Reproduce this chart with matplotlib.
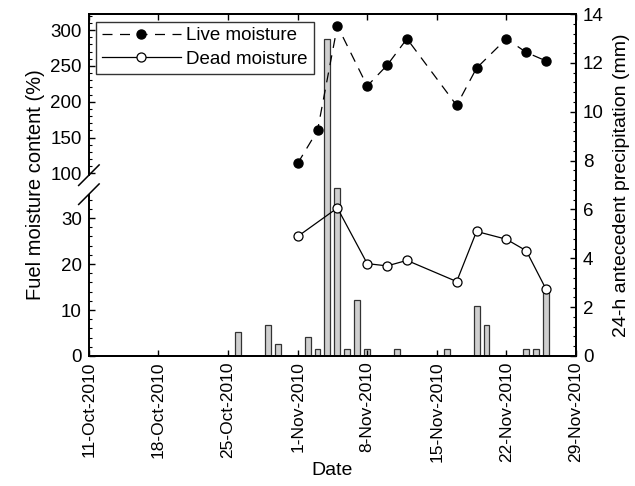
import numpy as np
import pandas as pd
import matplotlib
matplotlib.use("Agg")
import matplotlib.pyplot as plt

plt.rcParams["font.family"] = ["Liberation Sans", "DejaVu Sans"]

# data
live_dates = pd.to_datetime(["2010-11-01", "2010-11-03", "2010-11-05", "2010-11-08", "2010-11-10",
                             "2010-11-12", "2010-11-17", "2010-11-19", "2010-11-22", "2010-11-24",
                             "2010-11-26"])
live_moisture = [114, 160, 306, 222, 251, 288, 195, 247, 288, 269, 257]

dead_dates = pd.to_datetime(["2010-11-01", "2010-11-05", "2010-11-08", "2010-11-10", "2010-11-12",
                             "2010-11-17", "2010-11-19", "2010-11-22", "2010-11-24", "2010-11-26"])
dead_moisture = [26.0, 32.2, 20.1, 19.6, 20.8, 16.2, 27.1, 25.4, 22.9, 14.5]

rain_dates = pd.to_datetime(["2010-10-26", "2010-10-29", "2010-10-30", "2010-11-02", "2010-11-03",
                             "2010-11-04", "2010-11-05", "2010-11-06", "2010-11-07", "2010-11-08",
                             "2010-11-11", "2010-11-16", "2010-11-19", "2010-11-20", "2010-11-24",
                             "2010-11-25", "2010-11-26"])
rain_mm = [1.0, 1.27, 0.51, 0.78, 0.27, 13.0, 6.86, 0.27, 2.31, 0.27,
           0.27, 0.27, 2.04, 1.27, 0.27, 0.27, 2.7]

week_ticks = pd.to_datetime(["2010-10-11", "2010-10-18", "2010-10-25", "2010-11-01",
                             "2010-11-08", "2010-11-15", "2010-11-22", "2010-11-29"])
week_labels = ["11-Oct-2010", "18-Oct-2010", "25-Oct-2010", "1-Nov-2010",
               "8-Nov-2010", "15-Nov-2010", "22-Nov-2010", "29-Nov-2010"]

left_major = [0, 10, 20, 30, 100, 150, 200, 250, 300]

# broken left scale: lower part 0-35, squeezed gap, upper part 98-322
brk_vals = [0, 35.2, 97.6, 322.4]
brk_pos = [0, 161.7, 180.7, 341.7]


def fwd(v):
    return np.interp(v, brk_vals, brk_pos)


def inv(p):
    return np.interp(p, brk_pos, brk_vals)


fig = plt.figure(figsize=(6.35, 4.86), dpi=100)
ax = fig.add_axes([0.140, 0.2675, 0.767, 0.7035])
ax2 = ax.twinx()

# precipitation bars on the right axis
ax2.bar(rain_dates, rain_mm, width=0.6, color="#cfcfcf", edgecolor="#333333", linewidth=0.9)
ax2.set_ylim(0, 14)
ax2.set_yticks(range(0, 15, 2))
ax2.set_yticks(np.arange(0, 14.01, 0.4), minor=True)
ax2.tick_params(axis="y", which="both", direction="in", labelsize=13.5, pad=5)
ax2.tick_params(axis="y", which="major", length=4, width=1)
ax2.tick_params(axis="y", which="minor", length=2.2, width=0.8)
ax2.set_ylabel("24-h antecedent precipitation (mm)", fontsize=14, labelpad=7)
ax2.spines["left"].set_visible(False)

# moisture lines on the left axis, drawn above the bars
ax.set_zorder(ax2.get_zorder() + 1)
ax.patch.set_visible(False)
ax.set_yscale("function", functions=(fwd, inv))
ax.plot(live_dates, live_moisture, color="black", linestyle=(0, (8, 6)), linewidth=0.9,
        marker="o", markersize=6.5, markerfacecolor="black", markeredgecolor="black",
        label="Live moisture")
ax.plot(dead_dates, dead_moisture, color="black", linestyle="-", linewidth=0.9,
        marker="o", markersize=6.5, markerfacecolor="white", markeredgecolor="black",
        markeredgewidth=0.9, label="Dead moisture")
ax.set_ylim(0, 322.4)
ax.set_yticks(left_major)
ax.set_yticklabels([str(v) for v in left_major])
minor_left = [v for v in list(range(0, 35, 2)) + list(range(100, 321, 10)) if v not in left_major]
ax.set_yticks(minor_left, minor=True)
ax.tick_params(axis="y", which="both", direction="in", labelsize=13.5, pad=5)
ax.tick_params(axis="y", which="major", length=4, width=1)
ax.tick_params(axis="y", which="minor", length=2.2, width=0.8)
ax.set_ylabel("Fuel moisture content (%)", fontsize=14.5, labelpad=4)

ax.set_xlim(week_ticks[0], week_ticks[-1])
ax.set_xticks(week_ticks)
ax.set_xticklabels(week_labels, rotation=90)
ax.tick_params(axis="x", which="both", direction="in", top=True, length=4.5, width=1, labelsize=12.5, pad=4)
ax.set_xlabel("Date", fontsize=14, labelpad=0)
ax2.set_xlim(week_ticks[0], week_ticks[-1])

for a in (ax, ax2):
    for s in a.spines.values():
        s.set_linewidth(1.4)

# axis break on the left spine
ax.spines["left"].set_bounds(97.6, 322.4)
y_lo = brk_pos[1] / brk_pos[-1]
y_hi = brk_pos[2] / brk_pos[-1]
ax.plot([0, 0], [0, y_lo], transform=ax.transAxes, color="black", linewidth=1.4,
        clip_on=False, solid_capstyle="butt")
dx, dy = 0.021, 0.03
for yc in (y_lo, y_hi):
    ax.plot([-dx, dx], [yc - dy, yc + dy], transform=ax.transAxes, color="black",
            linewidth=1.1, clip_on=False)

leg = ax.legend(loc="upper left", fontsize=13.5, frameon=True, fancybox=False,
                edgecolor="black", handlelength=4.2, borderaxespad=0.4,
                borderpad=0.3, labelspacing=0.35, handletextpad=0.3)
leg.get_frame().set_linewidth(1.0)

fig.savefig("out.png", dpi=100)
